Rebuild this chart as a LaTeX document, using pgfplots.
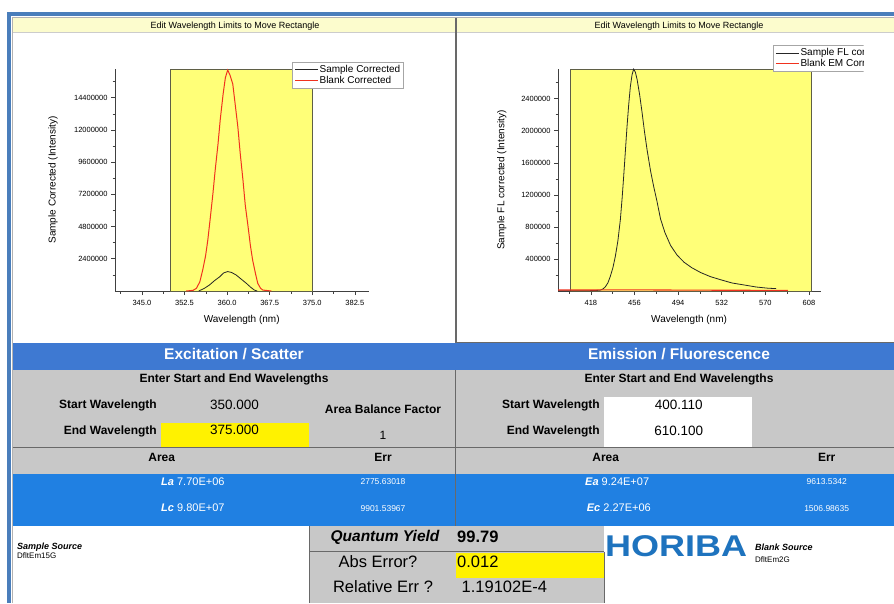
\documentclass[border=0pt]{standalone}
\usepackage{pgfplots}
\pgfplotsset{compat=1.18}
\usepackage{graphicx}
\usepackage{fontspec}
\setmainfont{Liberation Sans}
\definecolor{frameblue}{RGB}{74,126,187}
\definecolor{titlebar}{RGB}{252,252,205}
\definecolor{plotyellow}{RGB}{255,255,120}
\definecolor{hdrblue}{RGB}{62,121,210}
\definecolor{rowblue}{RGB}{32,128,226}
\definecolor{panelgrey}{RGB}{200,200,200}
\definecolor{linegrey}{RGB}{105,105,105}
\definecolor{horiba}{RGB}{30,115,190}
\definecolor{rectedge}{RGB}{95,95,70}
\definecolor{curvered}{RGB}{240,50,30}
\newcommand{\fs}[1]{\fontsize{#1}{#1}\selectfont}

\pgfplotsset{
  uiaxis/.style={
    scale only axis,
    axis x line*=bottom, axis y line*=left,
    axis line style={line width=0.8pt, black!75},
    tick align=outside, major tick length=4pt, minor tick length=2.5pt,
    every tick/.style={black!75, line width=0.6pt},
    ticklabel style={font=\fs{7.5}},
    xticklabel style={yshift=-1.5pt},
    scaled y ticks=false, scaled x ticks=false,
    /pgf/number format/assume math mode=true,
    label style={font=\fs{10}},
    legend cell align=left,
    legend image code/.code={\draw[##1] (0pt,0pt) -- (23pt,0pt);},
    legend style={draw=gray!70, line width=0.6pt, fill=white, font=\fs{10},
      inner xsep=2.5pt, inner ysep=2.3pt, nodes={inner sep=1pt}, row sep=0pt},
    clip=false,
  }
}

\begin{document}
\begin{tikzpicture}[x=1pt,y=1pt]
\fill[white] (0,0) rectangle (894,-603);
% outer frame
\fill[frameblue] (6.5,-11.5) rectangle (894,-15.5);
\fill[frameblue] (6.5,-11.5) rectangle (10.5,-603);
\draw[gray!60, line width=0.8pt] (12.3,-603) -- (12.3,-17.6) -- (894,-17.6);
% title bars
\fill[titlebar] (12.7,-18) rectangle (894,-32.5);
\draw[gray!40, line width=0.5pt] (12.7,-32.5) -- (894,-32.5);
\node[font=\fs{9}, anchor=mid] at (235,-25.9) {Edit Wavelength Limits to Move Rectangle};
\node[font=\fs{9}, anchor=mid] at (679,-25.9) {Edit Wavelength Limits to Move Rectangle};
% right plot panel border
\draw[linegrey, line width=1.3pt] (456,-18) -- (456,-342.3) -- (894,-342.3);

% ---------------- left chart ----------------
\begin{axis}[uiaxis,
  at={(115pt,-291pt)}, anchor=south west, width=254pt, height=222pt,
  xmin=340.25, xmax=385, ymin=0, ymax=16.54e6,
  xtick={345,352.5,360,367.5,375,382.5},
  xticklabels={345.0,352.5,360.0,367.5,375.0,382.5},
  minor xtick={341.25,348.75,356.25,363.75,371.25,378.75},
  ytick={2400000,4800000,7200000,9600000,12000000,14400000},
  yticklabels={2400000,4800000,7200000,9600000,12000000,14400000},
  minor ytick={1200000,3600000,6000000,8400000,10800000,13200000,15600000},
  xlabel={Wavelength (nm)}, ylabel={Sample Corrected (Intensity)},
  xlabel style={at={(axis description cs:0.499,-0.131)}, anchor=mid},
  ylabel style={at={(axis description cs:-0.244,0.5)}, anchor=center},
  legend style={at={(axis description cs:0.696,1.033)}, anchor=north west},
]
\addplot[forget plot, fill=plotyellow, draw=rectedge, line width=0.8pt]
  coordinates {(350,0) (350,16.54e6) (375,16.54e6) (375,0)} -- cycle;
\addplot[black!85, line width=0.8pt] coordinates {
(355.0,0) (356.0,0.2e6) (356.9,0.45e6) (357.8,0.78e6) (358.7,1.06e6)
(359.4,1.35e6) (360.1,1.45e6) (360.8,1.38e6) (361.6,1.19e6) (362.5,0.88e6)
(363.4,0.57e6) (364.1,0.3e6) (364.8,0.07e6) (365.3,0)};
\addlegendentry{Sample Corrected}
\addplot[curvered, line width=1pt] coordinates {
(352.8,0) (354.0,0.05e6) (354.6,0.2e6) (355.2,0.69e6) (355.7,1.56e6) (356.2,2.6e6)
(356.6,3.79e6) (357.0,5.3e6) (357.5,7.25e6) (357.9,9.0e6) (358.4,10.96e6)
(358.8,12.8e6) (359.3,14.68e6) (359.7,15.9e6) (360.1,16.46e6) (360.5,16.1e6)
(361.0,15.42e6) (361.4,14.0e6) (361.9,12.2e6) (362.3,10.3e6) (362.8,8.24e6)
(363.2,6.4e6) (363.7,4.78e6) (364.1,3.4e6) (364.5,2.3e6) (365.0,1.3e6)
(365.4,0.57e6) (365.9,0.2e6) (366.3,0.07e6) (367.8,0)};
\addlegendentry{Blank Corrected}
\end{axis}

% ---------------- right chart ----------------
\begin{scope}
\clip (457,-33) rectangle (863.5,-341);
\begin{axis}[uiaxis,
  at={(558pt,-291pt)}, anchor=south west, width=262.7pt, height=222pt,
  xmin=389.4, xmax=618.2, ymin=0, ymax=2.771e6,
  xtick={418,456,494,532,570,608},
  xticklabels={418,456,494,532,570,608},
  minor xtick={399,437,475,513,551,589},
  ytick={400000,800000,1200000,1600000,2000000,2400000},
  yticklabels={400000,800000,1200000,1600000,2000000,2400000},
  minor ytick={200000,600000,1000000,1400000,1800000,2200000,2600000},
  xlabel={Wavelength (nm)}, ylabel={Sample FL corrected (Intensity)},
  xlabel style={at={(axis description cs:0.499,-0.131)}, anchor=mid},
  ylabel style={at={(axis description cs:-0.214,0.5)}, anchor=center},
  legend style={at={(axis description cs:0.817,1.108)}, anchor=north west},
]
\addplot[forget plot, fill=plotyellow, draw=rectedge, line width=0.8pt]
  coordinates {(400.11,0) (400.11,2.771e6) (610.1,2.771e6) (610.1,0)} -- cycle;
\addplot[black!85, line width=0.8pt] coordinates {
(390,0.002e6) (410,0.003e6) (420,0.005e6) (426.1,0.01e6) (428.5,0.025e6) (430.5,0.05e6)
(432.8,0.1e6) (434.9,0.18e6) (437.2,0.29e6) (439.3,0.43e6) (441.5,0.62e6) (443.7,0.89e6)
(445.2,1.15e6) (446.6,1.43e6) (448.1,1.75e6) (449.5,2.05e6) (451.0,2.33e6)
(452.4,2.55e6) (453.9,2.7e6) (455.3,2.77e6) (456.8,2.73e6) (458.3,2.64e6)
(460.5,2.45e6) (462.7,2.22e6) (464.8,1.98e6) (467.0,1.76e6) (470.0,1.5e6)
(472.8,1.30e6) (475.6,1.12e6) (478.7,0.90e6) (482.5,0.73e6) (487.4,0.57e6)
(493,0.45e6) (499.1,0.36e6) (506,0.29e6) (513.7,0.23e6) (522,0.18e6)
(531.2,0.14e6) (541,0.10e6) (551.6,0.075e6) (562,0.05e6) (572.1,0.035e6) (579.4,0.03e6)};
\addlegendentry{Sample FL corrected}
\addplot[curvered, line width=1.1pt] coordinates {
(389.5,0.012e6) (420,0.013e6) (450,0.015e6) (500,0.011e6) (550,0.009e6) (589.6,0.008e6)};
\addlegendentry{Blank EM Corrected}
\end{axis}
\end{scope}

% ---------------- bottom panels ----------------
\fill[hdrblue] (12.7,-343) rectangle (894,-370);
\fill[panelgrey] (12.7,-370) rectangle (894,-474);
\fill[rowblue] (12.7,-474) rectangle (894,-526);
\draw[linegrey, line width=0.9pt] (12.7,-447.5) -- (894,-447.5);
\draw[linegrey, line width=0.9pt] (455.5,-370) -- (455.5,-526);
\fill[yellow] (161,-423) rectangle (309,-447);
\fill[white] (604,-396.5) rectangle (752,-447);
% quantum yield box
\fill[panelgrey] (309,-526) rectangle (604,-603);
\draw[linegrey, line width=0.9pt] (309,-526) -- (309,-603);
\draw[linegrey, line width=0.9pt] (309,-551.5) -- (604,-551.5);
\draw[linegrey, line width=0.9pt] (604,-551.5) -- (604,-603);
\fill[yellow] (456,-553) rectangle (603.5,-578);

% headers
\node[font=\bfseries\fs{15.5}, text=white, anchor=mid] at (234,-356.5) {Excitation / Scatter};
\node[font=\bfseries\fs{15.5}, text=white, anchor=mid] at (679,-356.5) {Emission / Fluorescence};
\node[font=\bfseries\fs{12}, anchor=mid] at (234,-379.5) {Enter Start and End Wavelengths};
\node[font=\bfseries\fs{12}, anchor=mid] at (679,-379.5) {Enter Start and End Wavelengths};
% left section
\node[font=\bfseries\fs{12}, anchor=mid east, inner sep=0pt] at (157,-406.2) {Start Wavelength};
\node[font=\bfseries\fs{12}, anchor=mid east, inner sep=0pt] at (157,-432) {End Wavelength};
\node[font=\fs{13.5}, anchor=mid] at (234.5,-407) {350.000};
\node[font=\fs{13.5}, anchor=mid] at (234.5,-432.2) {375.000};
\node[font=\bfseries\fs{12}, anchor=mid] at (383,-411.2) {Area Balance Factor};
\node[font=\fs{12}, anchor=mid] at (383,-437) {1};
\node[font=\bfseries\fs{12}, anchor=mid] at (161.7,-458.5) {Area};
\node[font=\bfseries\fs{12}, anchor=mid] at (383,-458.5) {Err};
\node[font=\fs{11}, text=white, anchor=mid west, inner sep=0pt] at (161,-482.8) {\textbf{\textit{La}} 7.70E+06};
\node[font=\fs{11}, text=white, anchor=mid west, inner sep=0pt] at (161,-509) {\textbf{\textit{Lc}} 9.80E+07};
\node[font=\fs{8.5}, text=white, anchor=mid] at (383,-481.9) {2775.63018};
\node[font=\fs{8.5}, text=white, anchor=mid] at (383,-509) {9901.53967};
% right section
\node[font=\bfseries\fs{12}, anchor=mid east, inner sep=0pt] at (600,-405.7) {Start Wavelength};
\node[font=\bfseries\fs{12}, anchor=mid east, inner sep=0pt] at (600,-432) {End Wavelength};
\node[font=\fs{13.5}, anchor=mid] at (678.7,-406.7) {400.110};
\node[font=\fs{13.5}, anchor=mid] at (678.7,-432.7) {610.100};
\node[font=\bfseries\fs{12}, anchor=mid] at (605.7,-458.5) {Area};
\node[font=\bfseries\fs{12}, anchor=mid] at (826.7,-458.5) {Err};
\node[font=\fs{11}, text=white, anchor=mid west, inner sep=0pt] at (585,-482.8) {\textbf{\textit{Ea}} 9.24E+07};
\node[font=\fs{11}, text=white, anchor=mid west, inner sep=0pt] at (586.7,-509) {\textbf{\textit{Ec}} 2.27E+06};
\node[font=\fs{8.5}, text=white, anchor=mid] at (826.7,-481.9) {9613.5342};
\node[font=\fs{8.5}, text=white, anchor=mid] at (826.7,-509) {1506.98635};
% sources
\node[font=\bfseries\itshape\fs{9}, anchor=mid west, inner sep=0pt] at (17,-547) {Sample Source};
\node[font=\fs{8}, anchor=mid west, inner sep=0pt] at (17,-556.1) {DfltEm15G};
\node[font=\bfseries\itshape\fs{9}, anchor=mid west, inner sep=0pt] at (755,-547.6) {Blank Source};
\node[font=\fs{8}, anchor=mid west, inner sep=0pt] at (755,-559.5) {DfltEm2G};
% quantum yield
\node[font=\bfseries\itshape\fs{15.5}, anchor=mid] at (385,-538.5) {Quantum Yield};
\node[font=\fs{16.5}, anchor=mid] at (378,-565) {Abs Error?};
\node[font=\fs{16.5}, anchor=mid] at (383,-590) {Relative Err ?};
\node[font=\bfseries\fs{16.5}, anchor=mid west, inner sep=0pt] at (457,-539.5) {99.79};
\node[font=\fs{16.5}, anchor=mid west, inner sep=0pt] at (457,-565) {0.012};
\node[font=\fs{16.5}, anchor=mid west, inner sep=0pt] at (461.5,-590) {1.19102E-4};
% logo
\node[font=\bfseries\fs{30}, text=horiba, anchor=mid, inner sep=0pt] at (676,-554) {\scalebox{1.2}[1]{HORIBA}};
\pgfresetboundingbox
\path[use as bounding box] (0,0) rectangle (894,-603);
\end{tikzpicture}
\end{document}
